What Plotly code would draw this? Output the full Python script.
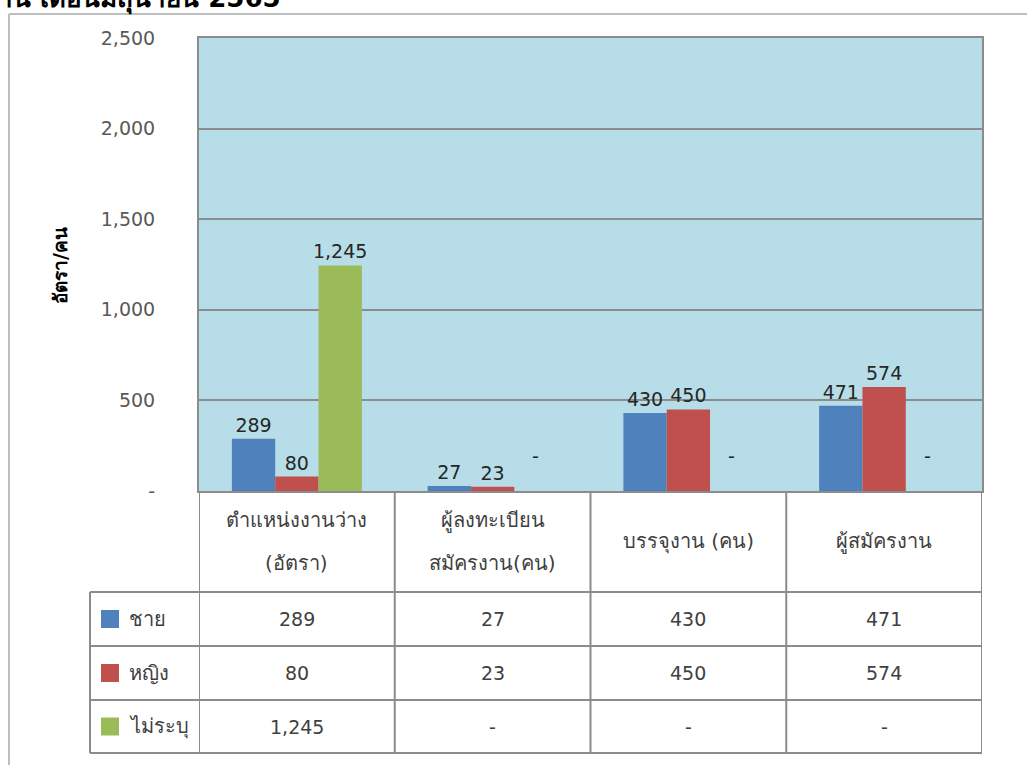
import plotly.graph_objects as go

# ---------------- data ----------------
categories = ["ตำแหน่งงานว่าง<br>(อัตรา)", "ผู้ลงทะเบียน<br>สมัครงาน(คน)", "บรรจุงาน (คน)", "ผู้สมัครงาน"]
series_names = ["ชาย", "หญิง", "ไม่ระบุ"]
male = [289, 27, 430, 471]
female = [80, 23, 450, 574]
unspecified = [1245, None, None, None]
y_tickvals = [0, 500, 1000, 1500, 2000, 2500]
y_ticktext = ["-", "500", "1,000", "1,500", "2,000", "2,500"]
y_title = "อัตรา/คน"
title_text = "ตำแหน่งงานว่าง ผู้ลงทะเบียน บรรจุงาน และผู้สมัครงาน เดือนมิถุนายน 2565"

colors = ["#4F81BD", "#C0504D", "#9BBB59"]
all_series = [male, female, unspecified]

FONT = "DejaVu Sans, Tahoma, sans-serif"
TXT = "#404040"

W, H = 1027, 765
PL, PR, PT, PB = 199, 982, 38, 491  # plot area in px
BARGAP = 0.336


def px_x(px):
    return (px - PL) / (PR - PL)


def px_y(py):
    return (PB - py) / (PB - PT)


def fmt(v):
    return "-" if v is None else f"{v:,}"


fig = go.Figure()
x_idx = list(range(len(categories)))
for name, vals, col in zip(series_names, all_series, colors):
    fig.add_trace(go.Bar(
        x=x_idx,
        y=[0 if v is None else v for v in vals],
        name=name,
        marker=dict(color=col, line=dict(width=0)),
        text=["" if v is None else fmt(v) for v in vals],
        textposition="outside",
        constraintext="none",
        textfont=dict(family=FONT, size=19, color="#262626"),
        cliponaxis=False,
        showlegend=False,
        hoverinfo="skip",
    ))

shapes = []
annotations = []
LINE = dict(color="#8C8C8C", width=2)

# dash labels for missing values (placed above the zero line of their bar slot)
cat_px = (PR - PL) / len(categories)
bar_px = cat_px * (1 - BARGAP) / len(all_series)
for k, vals in enumerate(all_series):
    for i, v in enumerate(vals):
        if v is None:
            annotations.append(dict(x=i, y=0, xref="x", yref="y", text="-", showarrow=False,
                                    xshift=(k - 1) * bar_px, yshift=22, yanchor="bottom",
                                    font=dict(family=FONT, size=19, color="#262626")))

# table row boundaries (px)
row_y = [592, 646, 700, 753]
for b in [i - 0.5 for i in range(len(categories) + 1)]:
    shapes.append(dict(type="line", xref="x", yref="paper", x0=b, x1=b,
                       y0=px_y(PB), y1=px_y(row_y[-1]), line=LINE))
for ry in row_y:
    shapes.append(dict(type="line", xref="paper", yref="paper", x0=px_x(90), x1=1,
                       y0=px_y(ry), y1=px_y(ry), line=LINE))
shapes.append(dict(type="line", xref="paper", yref="paper", x0=px_x(90), x1=px_x(90),
                   y0=px_y(row_y[0]), y1=px_y(row_y[-1]), line=LINE))
# outer chart frame
shapes.append(dict(type="line", xref="paper", yref="paper", x0=px_x(9), x1=px_x(9),
                   y0=px_y(14), y1=px_y(H + 5), line=dict(color="#BFBFBF", width=2)))
shapes.append(dict(type="line", xref="paper", yref="paper", x0=px_x(9), x1=px_x(W + 5),
                   y0=px_y(14), y1=px_y(14), line=dict(color="#BFBFBF", width=2)))

# category labels in header row (each line placed with generous spacing)
hdr_mid = (PB + row_y[0]) / 2
for i, c in enumerate(categories):
    lines = c.split("<br>")
    n = len(lines)
    for j, ln in enumerate(lines):
        off = (j - (n - 1) / 2) * 43
        annotations.append(dict(x=i, y=px_y(hdr_mid + off), xref="x", yref="paper",
                                text=ln, showarrow=False,
                                font=dict(family=FONT, size=20, color=TXT),
                                xanchor="center", yanchor="middle"))

# table rows
for r, (name, vals, col) in enumerate(zip(series_names, all_series, colors)):
    top, bot = row_y[r], row_y[r + 1]
    mid = (top + bot) / 2
    shapes.append(dict(type="rect", xref="paper", yref="paper",
                       x0=px_x(101), x1=px_x(119), y0=px_y(mid - 9), y1=px_y(mid + 9),
                       fillcolor=col, line=dict(width=0)))
    annotations.append(dict(x=px_x(127), y=px_y(mid), xref="paper", yref="paper",
                            text=name, showarrow=False, xanchor="left", yanchor="middle",
                            font=dict(family=FONT, size=20, color=TXT)))
    for i, v in enumerate(vals):
        annotations.append(dict(x=i, y=px_y(mid), xref="x", yref="paper",
                                text=fmt(v), showarrow=False, xanchor="center", yanchor="middle",
                                font=dict(family=FONT, size=19, color=TXT)))

# y-axis title
annotations.append(dict(x=px_x(60), y=px_y(266), xref="paper", yref="paper",
                        text="<b>" + y_title + "</b>", showarrow=False, textangle=-90,
                        font=dict(family=FONT, size=19, color="#000000"),
                        xanchor="center", yanchor="middle"))
# title, mostly above the visible page
annotations.append(dict(x=px_x(283), y=px_y(17), xref="paper", yref="paper",
                        text="<b>" + title_text + "</b>", showarrow=False,
                        xanchor="right", yanchor="bottom",
                        font=dict(family=FONT, size=26, color="#000000")))

fig.update_layout(
    width=W, height=H,
    margin=dict(l=PL, r=W - PR, t=PT, b=H - PB, autoexpand=False),
    paper_bgcolor="white",
    plot_bgcolor="#B7DDE8",
    barmode="group",
    bargap=BARGAP,
    bargroupgap=0,
    shapes=shapes,
    annotations=annotations,
    font=dict(family=FONT, color=TXT),
)
fig.update_xaxes(range=[-0.5, len(categories) - 0.5], showticklabels=False, showgrid=False,
                 zeroline=False, showline=True, linecolor="#8C8C8C", linewidth=2, mirror=True,
                 ticks="")
fig.update_yaxes(range=[0, 2500], tickvals=y_tickvals, ticktext=y_ticktext,
                 tickfont=dict(family=FONT, size=19, color="#595959"),
                 showgrid=True, gridcolor="#8C8C8C", gridwidth=2, zeroline=False,
                 showline=True, linecolor="#8C8C8C", linewidth=2, mirror=True,
                 ticks="outside", ticklen=38, tickcolor="rgba(0,0,0,0)")

fig.write_html("out.html", config={"displayModeBar": False},
               post_script="document.body.style.margin='0';document.body.style.overflow='hidden';")
